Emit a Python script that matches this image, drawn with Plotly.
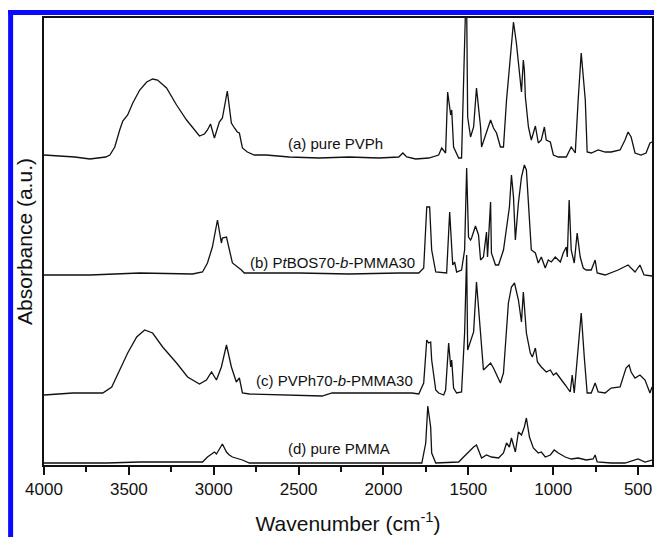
import plotly.graph_objects as go

# ---- data (wavenumber in cm-1, absorbance in a.u., stacked) ----
wn_a = [4000, 3906, 3818, 3730, 3671, 3636, 3612, 3583, 3554, 3536, 3507, 3477, 3436, 3395, 3360, 3331,
        3278, 3219, 3160, 3102, 3084, 3055, 3037, 3019, 2996, 2967, 2949, 2920, 2896, 2878, 2861, 2849,
        2831, 2802, 2761, 2691, 2555, 2379, 2203, 2027, 1910, 1886, 1863, 1810, 1733, 1675, 1657, 1634,
        1622, 1604, 1598, 1587, 1557, 1540, 1522, 1516, 1510, 1504, 1487, 1469, 1452, 1428, 1422, 1393,
        1369, 1352, 1334, 1311, 1293, 1275, 1252, 1234, 1217, 1193, 1187, 1176, 1170, 1164, 1146, 1129,
        1105, 1088, 1070, 1052, 1041, 1017, 999, 970, 923, 894, 870, 853, 835, 811, 800, 776, 735, 694,
        659, 606, 577, 559, 541, 518, 483, 453, 430, 418]
abs_a = [3.10, 3.09, 3.08, 3.06, 3.07, 3.08, 3.10, 3.18, 3.35, 3.44, 3.50, 3.62, 3.75, 3.83, 3.86, 3.85,
         3.77, 3.60, 3.45, 3.32, 3.29, 3.31, 3.35, 3.41, 3.27, 3.43, 3.47, 3.74, 3.42, 3.37, 3.33, 3.32,
         3.17, 3.13, 3.10, 3.10, 3.08, 3.07, 3.08, 3.07, 3.08, 3.12, 3.08, 3.06, 3.07, 3.10, 3.17, 3.12,
         3.73, 3.50, 3.55, 3.18, 3.07, 3.07, 4.02, 4.60, 4.60, 3.48, 3.28, 3.38, 3.77, 3.38, 3.18, 3.32,
         3.45, 3.37, 3.32, 3.18, 3.18, 3.65, 4.05, 4.43, 4.22, 3.78, 3.73, 4.05, 3.95, 3.68, 3.38, 3.25,
         3.39, 3.22, 3.25, 3.38, 3.25, 3.23, 3.10, 3.08, 3.08, 3.18, 3.12, 3.65, 4.12, 3.65, 3.13, 3.12,
         3.15, 3.13, 3.13, 3.15, 3.25, 3.33, 3.28, 3.12, 3.10, 3.12, 3.22, 3.23]

wn_b = [4000, 3730, 3436, 3125, 3066, 3037, 3008, 2978, 2955, 2949, 2925, 2908, 2890, 2837, 2820, 2497,
        2203, 1910, 1792, 1763, 1745, 1728, 1716, 1692, 1628, 1610, 1592, 1581, 1569, 1540, 1522, 1510,
        1499, 1487, 1481, 1458, 1440, 1428, 1411, 1393, 1387, 1369, 1364, 1340, 1322, 1293, 1275, 1258,
        1246, 1234, 1223, 1205, 1187, 1170, 1158, 1140, 1129, 1105, 1088, 1070, 1047, 1029, 1011, 988,
        958, 941, 923, 917, 906, 894, 876, 859, 841, 823, 806, 776, 753, 741, 694, 618, 559, 518, 489,
        465, 418]
abs_b = [1.90, 1.90, 1.92, 1.91, 1.93, 2.02, 2.18, 2.45, 2.22, 2.27, 2.28, 2.15, 2.02, 1.95, 1.92, 1.92,
         1.91, 1.92, 1.92, 1.97, 2.58, 2.58, 2.15, 1.93, 1.92, 2.53, 2.00, 2.03, 1.93, 1.95, 2.15, 2.97,
         2.28, 2.25, 2.27, 2.39, 2.30, 2.05, 2.08, 2.33, 2.08, 2.63, 2.12, 2.00, 2.00, 2.15, 2.37, 2.58,
         2.90, 2.68, 2.25, 2.62, 2.88, 3.00, 2.95, 2.48, 2.15, 2.12, 2.02, 2.08, 1.97, 2.05, 2.03, 2.08,
         2.03, 2.12, 2.18, 2.08, 2.65, 2.15, 2.02, 2.32, 2.08, 1.97, 1.95, 1.95, 2.05, 1.92, 1.90, 1.95,
         2.00, 1.93, 2.00, 1.90, 1.89]

wn_c = [4000, 3830, 3730, 3654, 3601, 3554, 3507, 3454, 3407, 3360, 3301, 3219, 3154, 3084, 3043, 3013,
        2984, 2955, 2925, 2896, 2867, 2849, 2831, 2790, 2362, 2303, 1910, 1833, 1792, 1763, 1745, 1734,
        1722, 1716, 1692, 1675, 1645, 1634, 1616, 1604, 1598, 1587, 1569, 1540, 1522, 1510, 1504, 1487,
        1469, 1452, 1428, 1411, 1393, 1369, 1352, 1334, 1311, 1293, 1275, 1264, 1246, 1228, 1205, 1193,
        1187, 1176, 1164, 1158, 1135, 1123, 1105, 1093, 1070, 1041, 1017, 999, 982, 958, 929, 900, 888,
        876, 864, 847, 835, 817, 800, 776, 753, 735, 694, 659, 606, 571, 553, 541, 518, 489, 459, 430, 418]
abs_c = [0.70, 0.72, 0.72, 0.72, 0.78, 0.95, 1.12, 1.28, 1.35, 1.32, 1.18, 1.02, 0.88, 0.81, 0.85, 0.93,
         0.85, 0.98, 1.20, 0.98, 0.83, 0.87, 0.72, 0.71, 0.69, 0.72, 0.72, 0.72, 0.71, 0.82, 1.25, 1.22,
         1.23, 1.05, 0.75, 0.72, 0.70, 0.75, 1.22, 0.98, 1.05, 0.77, 0.72, 0.73, 1.32, 2.10, 1.15, 1.23,
         1.33, 1.83, 1.32, 0.95, 0.98, 1.02, 0.97, 0.90, 0.82, 0.92, 1.32, 1.62, 1.78, 1.82, 1.65, 1.52,
         1.43, 1.73, 1.48, 1.32, 1.12, 1.08, 1.17, 1.03, 0.98, 0.93, 0.95, 0.90, 0.92, 0.87, 0.80, 0.73, 0.90,
         0.72, 0.98, 1.28, 1.52, 1.08, 0.72, 0.72, 0.82, 0.73, 0.72, 0.77, 0.78, 0.97, 1.00, 0.93, 0.87, 0.90,
         0.85, 0.72, 0.78]

wn_d = [4000, 3630, 3436, 3066, 3037, 3008, 2996, 2984, 2949, 2925, 2908, 2890, 2831, 2790, 2749, 1774,
        1751, 1739, 1722, 1716, 1692, 1557, 1528, 1499, 1487, 1469, 1452, 1434, 1422, 1393, 1364, 1322,
        1293, 1275, 1258, 1246, 1223, 1205, 1187, 1170, 1158, 1140, 1117, 1088, 1070, 1047, 1017, 994,
        970, 929, 894, 853, 806, 765, 753, 741, 659, 577, 500, 459, 418]
abs_d = [0.02, 0.02, 0.03, 0.03, 0.08, 0.11, 0.13, 0.11, 0.21, 0.13, 0.10, 0.08, 0.05, 0.02, 0.02, 0.02,
         0.22, 0.59, 0.38, 0.12, 0.02, 0.03, 0.08, 0.13, 0.15, 0.18, 0.20, 0.12, 0.07, 0.10, 0.08, 0.07,
         0.12, 0.22, 0.18, 0.27, 0.13, 0.33, 0.30, 0.38, 0.47, 0.28, 0.17, 0.12, 0.13, 0.08, 0.10, 0.15,
         0.12, 0.08, 0.06, 0.07, 0.05, 0.06, 0.10, 0.03, 0.02, 0.02, 0.06, 0.03, 0.05]

series = [
    ("(a) pure PVPh", wn_a, abs_a),
    ("(b) PtBOS70-b-PMMA30", wn_b, abs_b),
    ("(c) PVPh70-b-PMMA30", wn_c, abs_c),
    ("(d) pure PMMA", wn_d, abs_d),
]
label_text = ["(a) pure PVPh", "(b) P<i>t</i>BOS70-<i>b</i>-PMMA30",
              "(c) PVPh70-<i>b</i>-PMMA30", "(d) pure PMMA"]
label_x = [2280, 2303, 2291, 2262]
label_y = [3.22, 2.03, 0.85, 0.17]

x_ticks = [4000, 3500, 3000, 2500, 2000, 1500, 1000, 500]

FONT = "Liberation Sans, Arial, sans-serif"

fig = go.Figure()
for name, xs, ys in series:
    fig.add_trace(go.Scatter(x=xs, y=ys, mode="lines", name=name,
                             line=dict(color="#111111", width=1.3), showlegend=False))

for t, lx, ly in zip(label_text, label_x, label_y):
    fig.add_annotation(x=lx, y=ly, xref="x", yref="y", text=t, showarrow=False,
                       font=dict(family=FONT, size=15, color="#111111"))

# blue publication frame (left and top bars)
fig.add_shape(type="rect", xref="paper", yref="paper", x0=-0.0590, x1=-0.0508, y0=-0.162, y1=1.0179,
              fillcolor="#0a0aff", line=dict(width=0), layer="above")
fig.add_shape(type="rect", xref="paper", yref="paper", x0=-0.0590, x1=1.0033, y0=1.0067, y1=1.0179,
              fillcolor="#0a0aff", line=dict(width=0), layer="above")

fig.update_layout(
    width=656, height=537,
    margin=dict(l=44, r=2, t=18, b=72),
    paper_bgcolor="white", plot_bgcolor="white",
    font=dict(family=FONT, color="#111111"),
)
fig.update_xaxes(
    range=[4000, 418], showgrid=False, zeroline=False,
    showline=True, linecolor="#111111", linewidth=1.5, mirror=True,
    tickmode="array", tickvals=x_ticks, ticktext=[str(v) for v in x_ticks],
    ticks="outside", ticklen=8, tickwidth=1.5, tickcolor="#111111",
    minor=dict(tickmode="linear", tick0=250, dtick=500, ticks="outside", ticklen=5,
               tickwidth=1.5, tickcolor="#111111", showgrid=False),
    tickfont=dict(family=FONT, size=17, color="#111111"),
    title=dict(text="Wavenumber (cm<sup>-1</sup>)", font=dict(family=FONT, size=21, color="#111111"),
               standoff=18),
)
fig.update_yaxes(
    range=[0, 4.47], showgrid=False, zeroline=False,
    showline=True, linecolor="#111111", linewidth=1.5, mirror=True,
    showticklabels=False, ticks="",
    title=dict(text="Absorbance (a.u.)", font=dict(family=FONT, size=21, color="#111111"),
               standoff=4),
)

fig.write_html("out.html")
